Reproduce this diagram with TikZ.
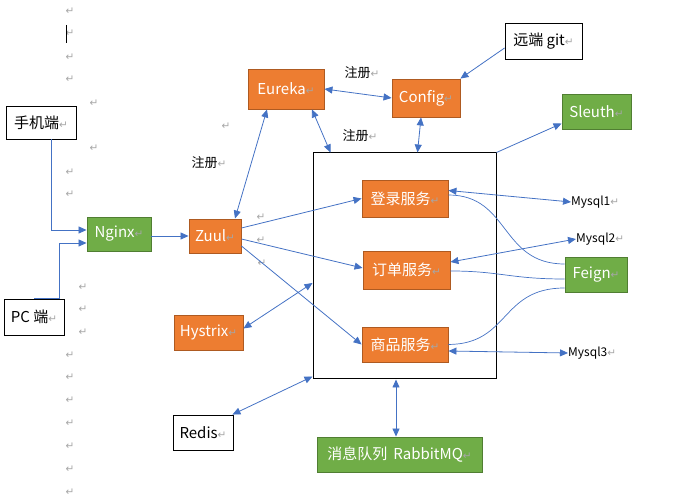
\documentclass[tikz,border=0pt]{standalone}
\usepackage{fontspec}
\setmainfont{Noto Sans CJK SC}
\newfontfamily\symfont{DejaVu Sans}
\usetikzlibrary{arrows.meta,calc}
\definecolor{orangebox}{HTML}{ED7D31}
\definecolor{orangeline}{HTML}{AE5A21}
\definecolor{greenbox}{HTML}{70AD47}
\definecolor{greenline}{HTML}{507E32}
\definecolor{arrowblue}{HTML}{4472C4}
\newcommand{\parmark}{{\symfont\fontsize{10.5}{10.5}\selectfont\color{gray!70}↵}}
\begin{document}
\begin{tikzpicture}[x=1pt,y=-1pt,
  basebox/.style={draw, line width=0.9pt, inner sep=0pt, font=\fontsize{15}{15}\selectfont},
  whitebox/.style={basebox, draw=black, fill=white, text=black},
  orangenode/.style={basebox, draw=orangeline, fill=orangebox, text=white},
  greennode/.style={basebox, draw=greenline, fill=greenbox, text=white},
  lbl/.style={inner sep=0pt, font=\fontsize{13}{13}\selectfont},
  dblbl/.style={inner sep=0pt, anchor=west, font=\fontsize{12}{12}\selectfont},
  pmark/.style={inner sep=0pt},
  conn/.style={draw=arrowblue, line width=0.8pt},
  biarrow/.style={conn, {Triangle[length=8pt,width=7pt]}-{Triangle[length=8pt,width=7pt]}},
  onearrow/.style={conn, -{Triangle[length=8pt,width=7pt]}},
  plainline/.style={conn, line width=0.7pt}
]
\useasboundingbox (0,0) rectangle (673,502);

% paragraph marks
\foreach \px/\py [count=\i] in {70/11,70/33,70/57,70/79,94/103,226/126,94/148,70/172,70/194,
  261/217,261/240,262/263,83/287,83/309,83/332,70/355,70/377,70/400,70/423,70/446,70/469,70/492}
  \node[pmark] (pm\i) at (\px,\py) {\parmark};
\coordinate (cursortop) at (66,25);
\coordinate (cursorbot) at (66,43);
\draw[line width=0.8pt] (cursortop) -- (cursorbot);

% services frame
\node[draw, line width=1pt, minimum width=183pt, minimum height=226pt, inner sep=0pt] (svc) at (404.5,266) {};

% nodes
\node[whitebox, minimum width=70pt, minimum height=33pt] (phone) at (41,122.5) {手机端\parmark};
\node[whitebox, minimum width=60pt, minimum height=36pt] (pc) at (34,317) {PC 端\parmark};
\node[greennode, minimum width=64pt, minimum height=34pt] (nginx) at (119,234) {Nginx\parmark};
\node[orangenode, minimum width=52pt, minimum height=34pt] (zuul) at (215,236) {Zuul\parmark};
\node[orangenode, minimum width=76pt, minimum height=40pt] (eureka) at (286,89) {Eureka\parmark};
\node[orangenode, minimum width=68pt, minimum height=38pt] (config) at (426,98) {Config\parmark};
\node[whitebox, minimum width=77pt, minimum height=36pt] (git) at (543.5,41) {远端 git\parmark};
\node[greennode, minimum width=69pt, minimum height=35pt] (sleuth) at (596.5,111.5) {Sleuth\parmark};
\node[orangenode, minimum width=86pt, minimum height=37pt] (login) at (405,198.5) {登录服务\parmark};
\node[orangenode, minimum width=87pt, minimum height=38pt] (order) at (406.5,270) {订单服务\parmark};
\node[orangenode, minimum width=86pt, minimum height=35pt] (goods) at (405,344.5) {商品服务\parmark};
\node[greennode, minimum width=62pt, minimum height=35pt] (feign) at (596,274.5) {Feign\parmark};
\node[orangenode, minimum width=69pt, minimum height=35pt] (hystrix) at (208.5,332.5) {Hystrix\parmark};
\node[whitebox, minimum width=60pt, minimum height=35pt] (redis) at (203,432.5) {Redis\parmark};
\node[greennode, minimum width=165pt, minimum height=35pt] (rabbit) at (399.5,454.5) {消息队列\hspace{6pt}RabbitMQ\parmark};

\node[dblbl] (mysql1) at (571,202) {Mysql1\parmark};
\node[dblbl] (mysql2) at (576,239) {Mysql2\parmark};
\node[dblbl] (mysql3) at (568,353) {Mysql3\parmark};

\node[lbl] (reg1) at (362,73) {注册\parmark};
\node[lbl] (reg2) at (360,136) {注册\parmark};
\node[lbl] (reg3) at (209,163) {注册\parmark};

% connectors
\draw[onearrow] ([xshift=10pt]phone.south) |- ([yshift=4pt]nginx.west);
\draw[onearrow] (pc.north) -- ++(25,0) |- ([yshift=-9pt]nginx.west);
\draw[onearrow] (nginx.east |- zuul) -- (zuul.west);
\draw[biarrow] ([xshift=20pt]zuul.north) -- ([xshift=-19pt]eureka.south);
\draw[biarrow] (eureka.east) -- (config.west);
\draw[biarrow] ([xshift=26pt]eureka.south) -- ([xshift=-74pt]svc.north);
\draw[biarrow] ([xshift=-5pt]config.south) -- ([xshift=13pt]svc.north);
\draw[onearrow] ([yshift=-7pt]git.west) -- (config.north east);
\draw[onearrow] (svc.north east) -- ([yshift=-12pt]sleuth.west);
\draw[onearrow] ([yshift=8pt]zuul.east) -- (login.west);
\draw[onearrow] ([yshift=-3pt]zuul.east) -- ([yshift=2pt]order.west);
\draw[onearrow] ([yshift=-10pt]zuul.east) -- (goods.west);
\draw[biarrow] ([yshift=4pt]hystrix.east) -- ([yshift=-17pt]svc.west);
\draw[biarrow] ([xshift=-1pt]redis.north east) -- ([yshift=3pt]svc.south west);
\draw[biarrow] ([xshift=-3.5pt]rabbit.north) -- ([xshift=-3.5pt]rabbit.north |- svc.south);
\draw[biarrow] ([yshift=8pt]login.east) -- (mysql1.west);
\draw[biarrow] ([yshift=8pt]order.east) -- (mysql2.west);
\draw[biarrow] ([yshift=-6.5pt]goods.east) -- (mysql3.west);

\draw[plainline] ([yshift=3.5pt]login.east) .. controls (510,195) and (500,264) .. ([yshift=10.5pt]feign.west);
\draw[plainline] ([yshift=-1pt]order.east) .. controls (500,271) and (510,279) .. ([yshift=-4.5pt]feign.west);
\draw[plainline] (goods.east) .. controls (510,344) and (500,288) .. ([yshift=-13.5pt]feign.west);
\end{tikzpicture}
\end{document}
